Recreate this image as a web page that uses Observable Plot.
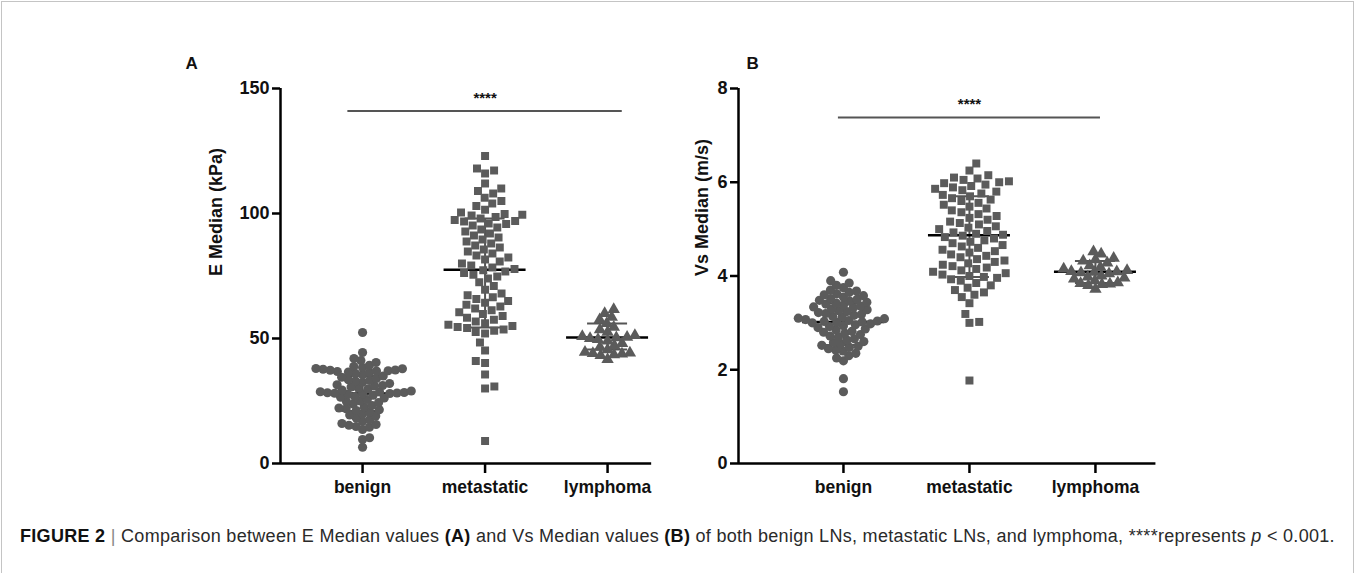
<!DOCTYPE html>
<html><head><meta charset="utf-8">
<script src="https://cdn.jsdelivr.net/npm/d3@7"></script>
<script src="https://cdn.jsdelivr.net/npm/@observablehq/plot@0.6"></script>
<style>
body{margin:0;background:#fff;font-family:"Liberation Sans",Arial,sans-serif;}
#fig{position:relative;width:1356px;height:573px;overflow:hidden;background:#fff;}
#frame{position:absolute;left:1px;top:1px;width:1353px;height:640px;border:1.5px solid #c4c4c4;box-sizing:border-box;}
.panel{position:absolute;top:0;}
#caption{position:absolute;left:20px;top:526px;font-size:18px;color:#2a2a2a;white-space:nowrap;letter-spacing:0.3px;}
#caption b{font-weight:bold;color:#111;}
#caption .sep{color:#888;font-weight:300;}
</style></head>
<body><div id="fig"><div id="frame"></div><div id="pA" class="panel"></div><div id="pB" class="panel"></div>
<div id="caption"><b>FIGURE 2</b> <span class="sep">|</span> Comparison between E Median values <b>(A)</b> and Vs Median values <b>(B)</b> of both benign LNs, metastatic LNs, and lymphoma, ****represents <i>p</i> &lt; 0.001.</div>
</div>
<script>
// ---------- data ----------
const categories = ["benign", "metastatic", "lymphoma"];

const eBenign = [6.5, 9.6, 10.3, 13.6, 14.5, 14.8, 15.3, 15.6, 16.0, 16.8, 17.5, 18.2, 19.0, 19.4, 19.8, 20.5, 21.2, 21.5, 21.9, 22.2, 22.6, 23.2, 23.8, 24.4, 24.8, 25.0, 25.6, 26.2, 26.5, 26.8, 27.3, 27.7, 27.9, 28.0, 28.1, 28.2, 28.3, 28.4, 28.6, 28.7, 29.0, 29.4, 29.8, 30.2, 30.6, 31.0, 31.2, 31.5, 32.0, 32.5, 33.0, 33.2, 33.5, 34.0, 34.5, 35.0, 35.5, 36.0, 36.4, 36.6, 36.8, 37.0, 37.1, 37.3, 37.4, 37.7, 37.9, 38.0, 38.4, 38.8, 39.3, 40.4, 41.2, 42.0, 44.4, 52.4];
const eMetastatic = [9.0, 30.0, 30.8, 35.6, 40.2, 41.0, 45.2, 48.4, 52.0, 52.6, 53.1, 53.6, 54.2, 54.6, 55.0, 55.5, 56.1, 56.8, 57.5, 58.3, 59.0, 59.8, 60.5, 61.3, 62.0, 62.8, 63.5, 64.3, 65.0, 65.8, 66.5, 67.3, 68.0, 69.5, 71.0, 72.5, 74.0, 74.8, 75.5, 76.2, 76.8, 77.3, 77.8, 78.4, 79.2, 80.0, 80.8, 81.6, 82.4, 83.2, 84.0, 84.8, 85.6, 86.4, 87.2, 88.0, 88.8, 89.6, 90.4, 91.2, 92.0, 92.8, 93.6, 94.4, 95.2, 95.8, 96.0, 96.8, 97.0, 97.4, 98.0, 98.6, 99.2, 99.5, 99.8, 100.4, 101.5, 103.0, 104.0, 105.0, 106.3, 108.0, 109.0, 110.0, 112.0, 116.0, 117.2, 118.0, 123.0];
const eLymphoma = [41.6, 43.2, 43.5, 43.8, 44.0, 44.2, 44.5, 45.5, 46.5, 47.2, 48.0, 49.0, 49.6, 50.0, 50.3, 50.5, 50.8, 51.2, 52.5, 53.5, 54.5, 56.0, 57.5, 58.5, 60.0, 61.6];

const vsBenign = [1.53, 1.81, 2.19, 2.25, 2.30, 2.35, 2.40, 2.42, 2.45, 2.48, 2.50, 2.52, 2.55, 2.58, 2.60, 2.63, 2.66, 2.70, 2.72, 2.75, 2.78, 2.80, 2.82, 2.85, 2.87, 2.90, 2.92, 2.94, 2.96, 2.98, 3.00, 3.01, 3.02, 3.03, 3.04, 3.05, 3.07, 3.09, 3.10, 3.12, 3.14, 3.16, 3.18, 3.20, 3.22, 3.24, 3.26, 3.28, 3.30, 3.32, 3.34, 3.36, 3.38, 3.40, 3.42, 3.44, 3.46, 3.48, 3.50, 3.52, 3.55, 3.58, 3.60, 3.62, 3.65, 3.68, 3.70, 3.75, 3.80, 3.85, 3.90, 4.08];
const vsMetastatic = [1.77, 3.00, 3.02, 3.19, 3.42, 3.55, 3.60, 3.65, 3.70, 3.75, 3.80, 3.85, 3.90, 3.93, 3.96, 3.98, 4.00, 4.03, 4.06, 4.09, 4.12, 4.15, 4.18, 4.21, 4.24, 4.27, 4.30, 4.33, 4.36, 4.40, 4.43, 4.46, 4.50, 4.53, 4.56, 4.60, 4.63, 4.66, 4.70, 4.73, 4.76, 4.80, 4.83, 4.86, 4.88, 4.90, 4.93, 4.96, 5.00, 5.03, 5.06, 5.10, 5.13, 5.16, 5.20, 5.24, 5.28, 5.32, 5.36, 5.40, 5.44, 5.48, 5.52, 5.56, 5.60, 5.63, 5.66, 5.70, 5.73, 5.76, 5.80, 5.83, 5.86, 5.89, 5.92, 5.95, 5.98, 6.00, 6.02, 6.05, 6.08, 6.10, 6.15, 6.25, 6.40];
const vsLymphoma = [3.72, 3.80, 3.82, 3.83, 3.84, 3.86, 3.90, 3.94, 3.96, 3.98, 4.00, 4.05, 4.07, 4.08, 4.09, 4.10, 4.12, 4.15, 4.19, 4.22, 4.28, 4.32, 4.35, 4.38, 4.47, 4.52];

const eMedian = [28, 77.5, 50.4], eQ1 = [21, 54.4, 45.6], eQ3 = [35, 98, 56];
const vsMedian = [3.02, 4.87, 4.09], vsQ1 = [2.53, 3.98, 3.85], vsQ3 = [3.42, 5.7, 4.32];
const eTicks = [0, 50, 100, 150], vsTicks = [0, 2, 4, 6, 8];
const eSignificance = 141, vsSignificance = 7.38, significanceLabel = "****";

// ---------- drawing ----------
const symbols = ["circle", "square", "triangle"];
const dotColor = "#5b5b5b";

function swarm(vals, yPx, D) {
  const order = vals.map((v, i) => i).sort((a, b) => vals[a] - vals[b]);
  const placed = [], out = new Array(vals.length);
  let flip = 1;
  for (const i of order) {
    const y = yPx(vals[i]);
    const near = placed.filter(p => Math.abs(p.y - y) < D);
    const cands = [0];
    for (const p of near) { const dx = Math.sqrt(D * D - (p.y - y) ** 2); cands.push(p.x + dx, p.x - dx); }
    cands.sort((a, b) => Math.abs(a) - Math.abs(b) || (flip * (b - a)));
    let x = 0;
    for (const c of cands) {
      if (near.every(p => (p.x - c) ** 2 + (p.y - y) ** 2 >= D * D - 1e-6)) { x = c; break; }
    }
    flip = -flip;
    placed.push({x, y}); out[i] = x;
  }
  return out;
}

function panel(el, cfg) {
  const H = 520, mTop = 88, mBottom = 57;
  const width = cfg.mLeft + (cfg.xmax - cfg.xmin) * cfg.px + cfg.mRight;
  const ypx = d3.scaleLinear([0, cfg.yMax], [H - mBottom, mTop]);
  const groups = cfg.values.map((vals, g) => {
    const off = swarm(vals, ypx, cfg.D[g]);
    return vals.map((v, k) => ({g, v, x: g + off[k] / cfg.px}));
  });
  const stats = categories.map((c, i) => ({i, med: cfg.med[i], q1: cfg.q1[i], q3: cfg.q3[i]}));
  const medHalf = 41 / cfg.px, capHalf = 20 / cfg.px;
  const txt = {fontWeight: "bold", fill: "#111"};
  const plot = Plot.plot({
    width, height: H, marginLeft: cfg.mLeft, marginRight: cfg.mRight, marginTop: mTop, marginBottom: mBottom,
    x: {domain: [cfg.xmin, cfg.xmax], axis: null},
    y: {domain: [0, cfg.yMax], axis: null},
    style: {fontFamily: "'Liberation Sans', Arial, sans-serif", background: "transparent", overflow: "visible"},
    marks: [
      Plot.ruleX(stats, {x: "i", y1: "q1", y2: "q3", stroke: "#555", strokeWidth: 2}),
      Plot.ruleY(stats, {y: "q1", x1: d => d.i - capHalf, x2: d => d.i + capHalf, stroke: "#555", strokeWidth: 2}),
      Plot.ruleY(stats, {y: "q3", x1: d => d.i - capHalf, x2: d => d.i + capHalf, stroke: "#555", strokeWidth: 2}),
      Plot.ruleY(stats, {y: "med", x1: d => d.i - medHalf, x2: d => d.i + medHalf, stroke: "#000", strokeWidth: 2.5}),
      ...groups.map((pts, g) => Plot.dot(pts, {x: "x", y: "v", symbol: symbols[g], r: cfg.r[g], fill: dotColor, stroke: "none"})),
      Plot.ruleX([cfg.xmin], {y1: 0, y2: cfg.yMax, stroke: "#000", strokeWidth: 2.5}),
      Plot.ruleY([0], {x1: cfg.xmin, x2: cfg.xmax, stroke: "#000", strokeWidth: 2.5}),
      Plot.axisY({ticks: cfg.ticks, tickSize: 8, tickPadding: 3, strokeWidth: 2.5, stroke: "#000", fontSize: 18, ...txt, label: null, anchor: "left"}),
      Plot.axisX({ticks: [0, 1, 2], tickFormat: i => categories[i], tickSize: 10, tickPadding: 7, strokeWidth: 2.5, stroke: "#000", fontSize: 17.5, ...txt, label: null, anchor: "bottom"}),
      Plot.text([cfg.yLabel], {frameAnchor: "left", dx: cfg.labelDx, rotate: -90, fontSize: 18, ...txt}),
      Plot.ruleY([cfg.sig], {x1: cfg.sigX[0], x2: cfg.sigX[1], stroke: "#555", strokeWidth: 2}),
      Plot.text([significanceLabel], {x: 1, y: cfg.sig, dy: -13, fontSize: 15, ...txt}),
      Plot.text([cfg.letter], {frameAnchor: "top-left", dx: cfg.letterDx, dy: -32, fontSize: 17, ...txt})
    ]
  });
  el.style.left = cfg.left + "px";
  el.appendChild(plot);
}

panel(document.getElementById("pA"), {
  left: 0, mLeft: 280, mRight: 20, px: 122.5, xmin: -0.67, xmax: 2.36,
  values: [eBenign, eMetastatic, eLymphoma], med: eMedian, q1: eQ1, q3: eQ3,
  yMax: 150, ticks: eTicks, yLabel: "E Median (kPa)", labelDx: -64,
  sig: eSignificance, sigX: [-0.12, 2.12], letter: "A", letterDx: -95,
  r: [4.6, 4.5, 4.6], D: [7.2, 9.5, 8]
});
panel(document.getElementById("pB"), {
  left: 460, mLeft: 278, mRight: 20, px: 126, xmin: -0.833, xmax: 2.48,
  values: [vsBenign, vsMetastatic, vsLymphoma], med: vsMedian, q1: vsQ1, q3: vsQ3,
  yMax: 8, ticks: vsTicks, yLabel: "Vs Median (m/s)", labelDx: -36,
  sig: vsSignificance, sigX: [-0.04, 2.04], letter: "B", letterDx: 8,
  r: [4.6, 4.5, 4.6], D: [7.4, 9.8, 8]
});
</script>
</body></html>
